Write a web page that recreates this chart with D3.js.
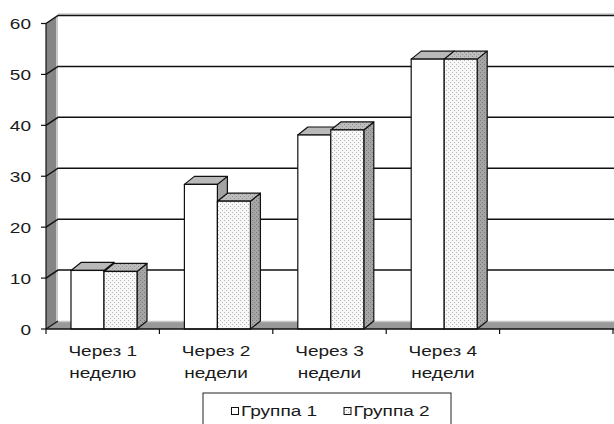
<!DOCTYPE html>
<html>
<head>
<meta charset="utf-8">
<script src="https://cdn.jsdelivr.net/npm/d3@7"></script>
<style>
  html, body { margin: 0; padding: 0; background: #fff; }
  svg { display: block; }
  text { font-family: "Liberation Sans", Arial, sans-serif; fill: #1a1a1a; }
</style>
</head>
<body>
<script>
// Data
const categories = ["Через 1|неделю", "Через 2|недели", "Через 3|недели", "Через 4|недели", ""];
const series = ["Группа 1", "Группа 2"];
const group1 = [11.5, 28.4, 38.1, 53];
const group2 = [11.3, 25.1, 39.1, 53];
const yTicks = [0, 10, 20, 30, 40, 50, 60];

const W = 614, H = 424;
const svg = d3.select("body").append("svg").attr("width", W).attr("height", H);

// Text is drawn slightly widened, like the original chart export
const SX = 1.27;
function stretchedText(g, x, y, str, anchor) {
  return g.append("text")
    .attr("transform", `translate(${x},${y}) scale(${SX},1)`)
    .attr("text-anchor", anchor || "start")
    .style("font-size", "15px")
    .text(str);
}

const defs = svg.append("defs");
function dotPattern(id, bg, dot) {
  const p = defs.append("pattern").attr("id", id).attr("width", 4).attr("height", 4)
    .attr("patternUnits", "userSpaceOnUse");
  p.append("rect").attr("width", 4).attr("height", 4).attr("fill", bg);
  p.append("rect").attr("x", 0).attr("y", 0).attr("width", 1).attr("height", 1).attr("fill", dot);
  p.append("rect").attr("x", 2).attr("y", 2).attr("width", 1).attr("height", 1).attr("fill", dot);
}
dotPattern("dotFront", "#f7f7f7", "#b5b5b5");
dotPattern("dotTop", "#bdbdbd", "#8f8f8f");
dotPattern("dotSide", "#a5a5a5", "#7a7a7a");

// Scales
const x0 = 46, x1 = 613;
const y = d3.scaleLinear().domain([0, 60]).range([329, 23.5]);
const x = d3.scaleBand().domain(d3.range(categories.length)).range([x0, x1]);
const xs = d3.scaleBand().domain(series).range([25, 91]);

// 3D offsets: walls and bars
const wdx = 12, wdy = -8;
const bdx = 10, bdy = -8;

const line = d3.line();

// Back wall
svg.append("rect").attr("x", x0 + wdx).attr("y", y(60) + wdy)
  .attr("width", W - x0 - wdx + 10).attr("height", y(0) - y(60)).attr("fill", "#ffffff");

// Side wall
svg.append("path")
  .attr("d", line([[x0, y(0)], [x0, y(60)], [x0 + wdx, y(60) + wdy], [x0 + wdx, y(0) + wdy]]) + "Z")
  .attr("fill", "#858585");
svg.append("line")
  .attr("x1", x0 + wdx - 1).attr("x2", x0 + wdx - 1)
  .attr("y1", y(60) + wdy + 1).attr("y2", y(0) + wdy)
  .attr("stroke", "#c8c8c8").attr("stroke-width", 2);

// Floor
svg.append("path")
  .attr("d", line([[x0, y(0)], [x0 + wdx, y(0) + wdy], [W + 10, y(0) + wdy], [W + 10, y(0)]]) + "Z")
  .attr("fill", "#999999");
svg.append("line")
  .attr("x1", x0 + wdx).attr("x2", W + 10)
  .attr("y1", y(0) + wdy + 0.5).attr("y2", y(0) + wdy + 0.5)
  .attr("stroke", "#c8c8c8").attr("stroke-width", 1.5);

// Gridlines across side and back walls
yTicks.filter(v => v > 0).forEach(v => {
  if (v === 60) {
    svg.append("path")
      .attr("d", line([[x0 + wdx, y(v) + wdy - 1.5], [W + 10, y(v) + wdy - 1.5]]))
      .attr("fill", "none").attr("stroke", "#b0b0b0").attr("stroke-width", 1.2);
  }
  svg.append("path")
    .attr("d", line([[x0, y(v)], [x0 + wdx, y(v) + wdy], [W + 10, y(v) + wdy]]))
    .attr("fill", "none").attr("stroke", "#111").attr("stroke-width", 1.5);
});
// Floor left edge
svg.append("path")
  .attr("d", line([[x0, y(0)], [x0 + wdx, y(0) + wdy]]))
  .attr("fill", "none").attr("stroke", "#111").attr("stroke-width", 1.2);

// Bars
const styles = {
  "Группа 1": { front: "#ffffff", top: "#b9b9b9", side: "#a3a3a3" },
  "Группа 2": { front: "url(#dotFront)", top: "url(#dotTop)", side: "url(#dotSide)" }
};
const barData = [];
group1.forEach((v, i) => {
  barData.push({ cat: i, s: "Группа 1", v });
  barData.push({ cat: i, s: "Группа 2", v: group2[i] });
});
const bars = svg.append("g").selectAll("g").data(barData).join("g");
bars.each(function (d) {
  const g = d3.select(this);
  const bx = x(d.cat) + xs(d.s), bw = xs.bandwidth();
  const yt = y(d.v), yb = y(0);
  const st = styles[d.s];
  g.append("path")
    .attr("d", line([[bx + bw, yt], [bx + bw + bdx, yt + bdy], [bx + bw + bdx, yb + bdy], [bx + bw, yb]]) + "Z")
    .attr("fill", st.side).attr("stroke", "#111").attr("stroke-width", 1.2).attr("stroke-linejoin", "round");
  g.append("path")
    .attr("d", line([[bx, yt], [bx + bdx, yt + bdy], [bx + bw + bdx, yt + bdy], [bx + bw, yt]]) + "Z")
    .attr("fill", st.top).attr("stroke", "#111").attr("stroke-width", 1.2).attr("stroke-linejoin", "round");
  g.append("rect").attr("x", bx).attr("y", yt).attr("width", bw).attr("height", yb - yt)
    .attr("fill", st.front).attr("stroke", "#111").attr("stroke-width", 1.2);
});

// Y axis
const yAxis = svg.append("g");
yAxis.append("line").attr("x1", x0).attr("x2", x0).attr("y1", y(60)).attr("y2", y(0))
  .attr("stroke", "#111").attr("stroke-width", 1.2);
yTicks.forEach(v => {
  yAxis.append("line").attr("x1", x0 - 5).attr("x2", x0).attr("y1", y(v)).attr("y2", y(v))
    .attr("stroke", "#111").attr("stroke-width", 1.2);
  stretchedText(yAxis, 31, y(v) + 5.5, String(v), "end");
});

// X axis
const xAxis = svg.append("g");
xAxis.append("line").attr("x1", x0).attr("x2", x1 + 2).attr("y1", y(0)).attr("y2", y(0))
  .attr("stroke", "#111").attr("stroke-width", 1.5);
d3.range(categories.length + 1).forEach(i => {
  const tx = i < categories.length ? x(i) : x1;
  xAxis.append("line").attr("x1", tx).attr("x2", tx).attr("y1", y(0)).attr("y2", y(0) + 5)
    .attr("stroke", "#111").attr("stroke-width", 1.2);
});
categories.forEach((c, i) => {
  if (!c) return;
  const cx = x(i) + x.bandwidth() / 2;
  const parts = c.split("|");
  stretchedText(xAxis, cx, 356, parts[0], "middle");
  stretchedText(xAxis, cx, 378, parts[1], "middle");
});

// Legend
const lg = svg.append("g");
lg.append("rect").attr("x", 203).attr("y", 393).attr("width", 248).attr("height", 40)
  .attr("fill", "#fff").attr("stroke", "#222").attr("stroke-width", 1);
const legendX = [231.5, 344];
series.forEach((s, i) => {
  lg.append("rect").attr("x", legendX[i]).attr("y", 407.5).attr("width", 7).attr("height", 7)
    .attr("fill", i === 0 ? "#fff" : "url(#dotFront)").attr("stroke", "#111").attr("stroke-width", 1);
  stretchedText(lg, legendX[i] + 9.5, 416, s, "start");
});
</script>
</body>
</html>
